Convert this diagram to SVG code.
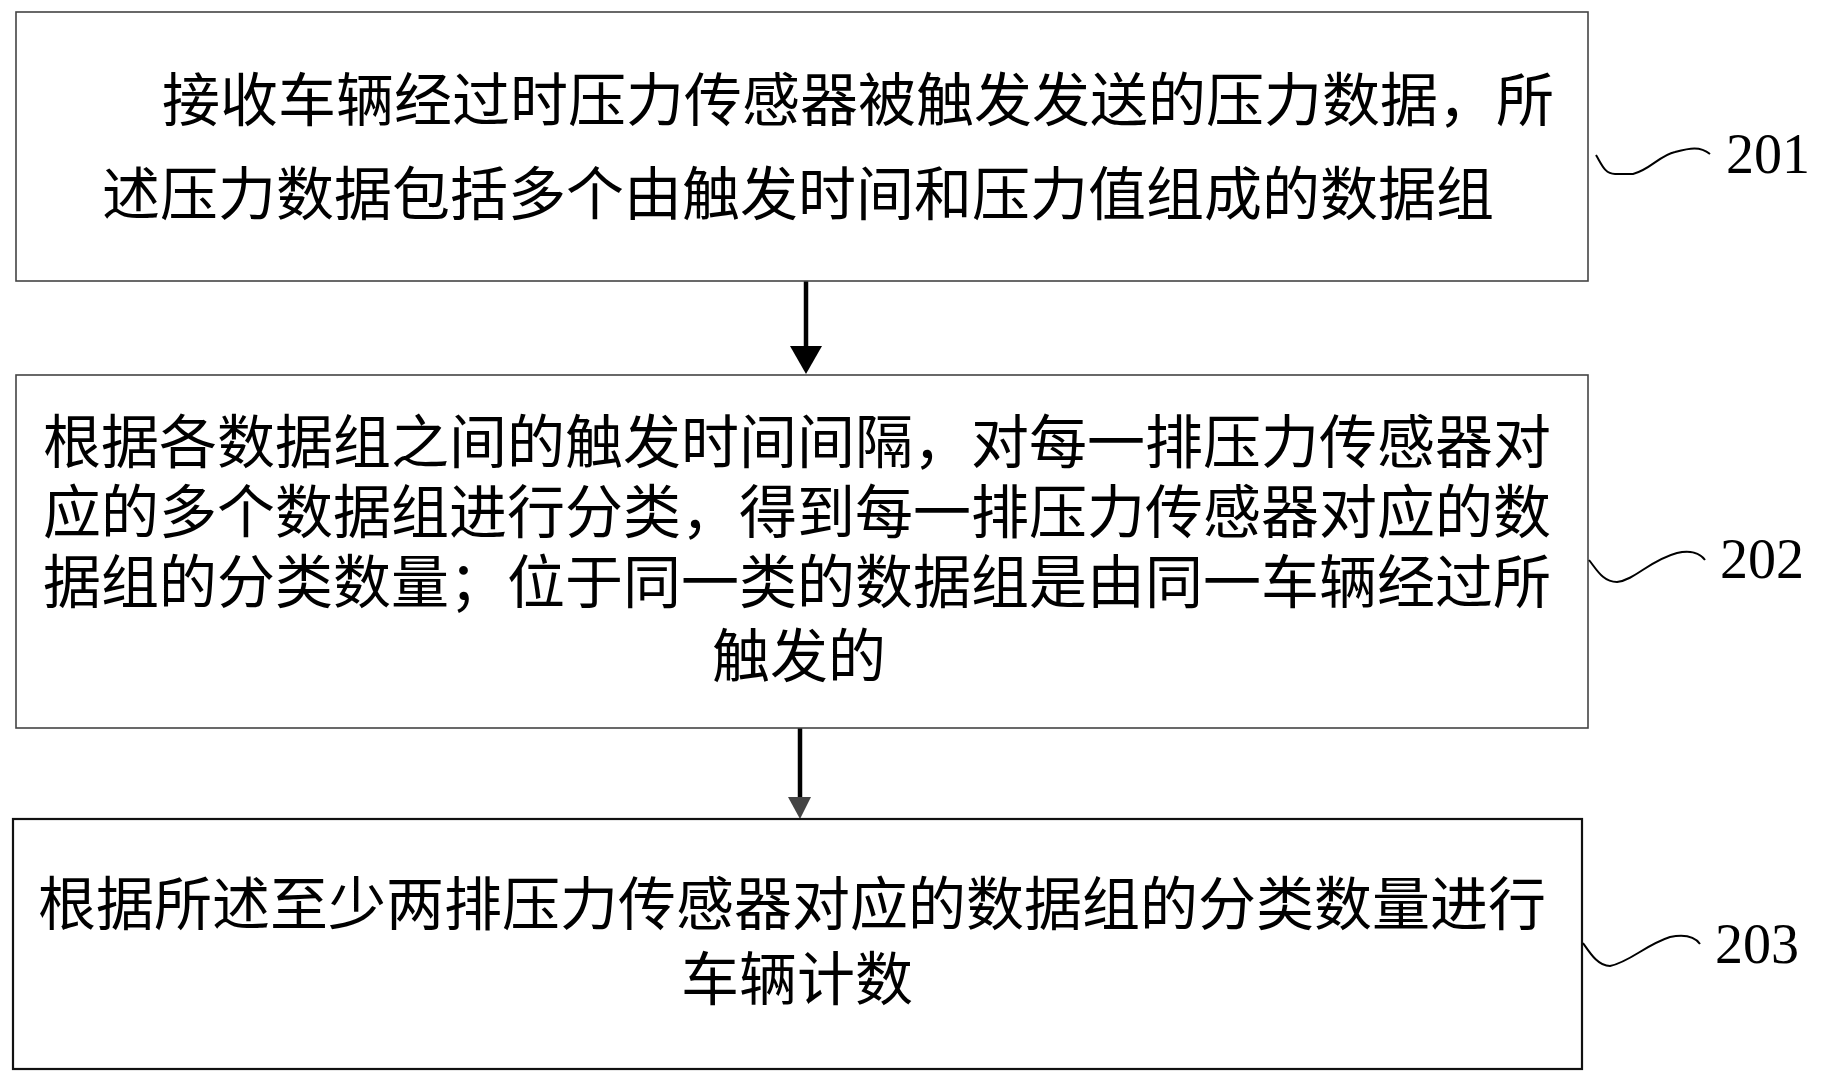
<svg xmlns="http://www.w3.org/2000/svg" width="1821" height="1084" viewBox="0 0 1821 1084">
<style>
.box{fill:#fff;stroke:#444;stroke-width:1.6}
.box3{fill:#fff;stroke:#111;stroke-width:2.2}
.t{font-family:"Noto Sans CJK SC","Noto Sans CJK TC",sans-serif;font-size:58px;fill:#000}
.lbl{font-family:"Liberation Serif","Times New Roman",serif;font-size:56px;fill:#000}
.sq{fill:none;stroke:#000;stroke-width:2}
.ln{stroke:#000;stroke-width:4.5;fill:none}
</style>
<rect width="1821" height="1084" fill="#fff"/>
<g id="connectors">
<line class="ln" x1="806" y1="279" x2="806" y2="348"/>
<polygon points="790,346 822,346 806,374" fill="#000"/>
<line class="ln" x1="800" y1="727" x2="800" y2="799"/>
<polygon points="788,797 811,797 800,819" fill="#444"/>
</g>
<g id="node201">
<rect class="box" x="16" y="12" width="1572" height="269"/>
<text class="t"><tspan x="162" y="121">接收车辆经过时压力传感器被触发发送的压力数据，所</tspan><tspan x="102" y="215">述压力数据包括多个由触发时间和压力值组成的数据组</tspan></text>
</g>
<g id="node202">
<rect class="box" x="16" y="375" width="1572" height="353"/>
<text class="t"><tspan x="43" y="463">根据各数据组之间的触发时间间隔，对每一排压力传感器对</tspan><tspan x="43" y="533">应的多个数据组进行分类，得到每一排压力传感器对应的数</tspan><tspan x="43" y="603">据组的分类数量；位于同一类的数据组是由同一车辆经过所</tspan><tspan x="799" y="677" text-anchor="middle">触发的</tspan></text>
</g>
<g id="node203">
<rect class="box3" x="13" y="819" width="1569" height="250"/>
<text class="t"><tspan x="38" y="925">根据所述至少两排压力传感器对应的数据组的分类数量进行</tspan><tspan x="797" y="1000" text-anchor="middle">车辆计数</tspan></text>
</g>
<g id="label201">
<path class="sq" d="M1596,155 C1602,165 1605,174 1615,174 L1633,174 C1650,170 1660,155 1675,152 C1690,148 1700,146 1710,154"/>
<text class="lbl" x="1726" y="173">201</text>
</g>
<g id="label202">
<path class="sq" d="M1589,560 C1597,570 1603,582 1617,582 C1635,580 1650,560 1677,553 C1690,550 1700,553 1705,560"/>
<text class="lbl" x="1720" y="578">202</text>
</g>
<g id="label203">
<path class="sq" d="M1583,943 C1590,953 1598,966 1610,966 C1630,962 1645,945 1670,937 C1685,934 1695,937 1700,944"/>
<text class="lbl" x="1715" y="963">203</text>
</g>
</svg>
